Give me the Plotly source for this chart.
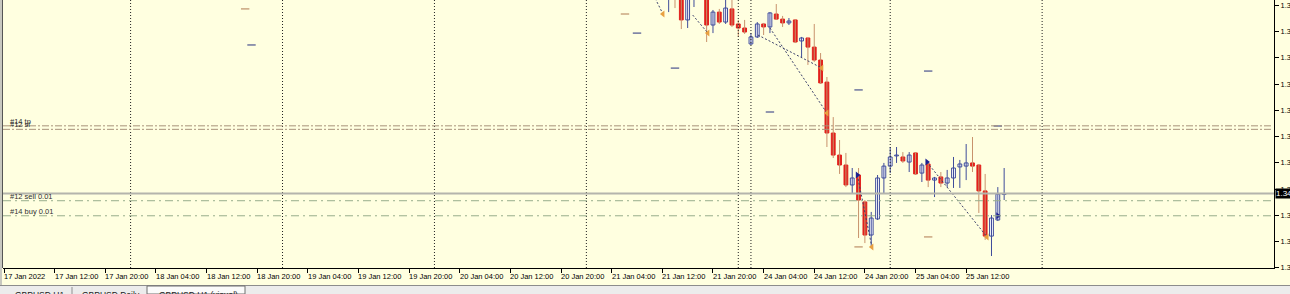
import plotly.graph_objects as go

# ---------------- data ----------------
# x axis = H1 bar index (weekend skipped); index 0 = 17 Jan 2022 04:00
tick_index = [0, 8, 16, 24, 32, 40, 48, 56, 64, 72, 80, 88, 96, 104, 112, 120, 128, 136, 144, 152]
tick_labels = ["17 Jan 2022", "17 Jan 12:00", "17 Jan 20:00", "18 Jan 04:00", "18 Jan 12:00",
               "18 Jan 20:00", "19 Jan 04:00", "19 Jan 12:00", "19 Jan 20:00", "20 Jan 04:00",
               "20 Jan 12:00", "20 Jan 20:00", "21 Jan 04:00", "21 Jan 12:00", "21 Jan 20:00",
               "24 Jan 04:00", "24 Jan 12:00", "24 Jan 20:00", "25 Jan 04:00", "25 Jan 12:00"]
separator_index = [20, 44, 68, 92, 116, 118, 140, 164]

price_tick_values = [1.34150, 1.34300, 1.34450, 1.34600, 1.34750, 1.34900,
                     1.35050, 1.35200, 1.35350, 1.35500, 1.35650]
price_tick_labels = ["1.34150", "1.34300", "1.34450", "1.34600", "1.34750", "1.34900",
                     "1.35050", "1.35200", "1.35350", "1.35500", "1.35650"]

candle_index = list(range(105, 159))
open_ = [1.35697, 1.35749, 1.35709, 1.35566, 1.35691, 1.35726, 1.35697, 1.35537, 1.35611, 1.35554,
         1.35629, 1.35543, 1.35520, 1.35429, 1.35469, 1.35543, 1.35526, 1.35600, 1.35571, 1.35549,
         1.35566, 1.35446, 1.35463, 1.35411, 1.35337, 1.35211, 1.34920, 1.34794, 1.34737, 1.34623,
         1.34680, 1.34526, 1.34337, 1.34429, 1.34663, 1.34731, 1.34789, 1.34783, 1.34754, 1.34806,
         1.34691, 1.34743, 1.34651, 1.34669, 1.34634, 1.34663, 1.34726, 1.34731, 1.34749, 1.34737,
         1.34589, 1.34331, 1.34423, 1.34569]
high = [1.35766, 1.35766, 1.35726, 1.35726, 1.35749, 1.35766, 1.35714, 1.35623, 1.35629, 1.35686,
        1.35686, 1.35566, 1.35566, 1.35491, 1.35554, 1.35549, 1.35611, 1.35657, 1.35589, 1.35577,
        1.35571, 1.35469, 1.35463, 1.35543, 1.35377, 1.35240, 1.35011, 1.34880, 1.34806, 1.34720,
        1.34720, 1.34537, 1.34469, 1.34680, 1.34749, 1.34840, 1.34840, 1.34811, 1.34811, 1.34811,
        1.34749, 1.34749, 1.34669, 1.34697, 1.34709, 1.34783, 1.34766, 1.34857, 1.34897, 1.34743,
        1.34686, 1.34451, 1.34611, 1.34720]
low = [1.35611, 1.35634, 1.35514, 1.35520, 1.35640, 1.35691, 1.35440, 1.35491, 1.35543, 1.35543,
       1.35526, 1.35469, 1.35486, 1.35423, 1.35463, 1.35480, 1.35491, 1.35566, 1.35526, 1.35537,
       1.35434, 1.35354, 1.35309, 1.35326, 1.35200, 1.34840, 1.34777, 1.34686, 1.34611, 1.34577,
       1.34320, 1.34291, 1.34269, 1.34423, 1.34577, 1.34691, 1.34749, 1.34749, 1.34697, 1.34680,
       1.34640, 1.34611, 1.34554, 1.34611, 1.34611, 1.34606, 1.34606, 1.34651, 1.34697, 1.34463,
       1.34309, 1.34217, 1.34417, 1.34537]
close = [1.35737, 1.35697, 1.35566, 1.35703, 1.35726, 1.35697, 1.35537, 1.35611, 1.35554, 1.35634,
         1.35537, 1.35520, 1.35497, 1.35469, 1.35543, 1.35526, 1.35606, 1.35571, 1.35549, 1.35560,
         1.35440, 1.35463, 1.35411, 1.35337, 1.35206, 1.34920, 1.34794, 1.34737, 1.34623, 1.34663,
         1.34537, 1.34337, 1.34434, 1.34663, 1.34731, 1.34783, 1.34794, 1.34760, 1.34794, 1.34686,
         1.34737, 1.34651, 1.34663, 1.34634, 1.34663, 1.34720, 1.34743, 1.34749, 1.34731, 1.34589,
         1.34331, 1.34434, 1.34571, 1.34574]

# order levels (horizontal lines) shown on the chart
level_names = ["#14 tp", "#12 sl", "#12 sell 0.01", "#14 buy 0.01"]
level_prices = [1.34961, 1.34941, 1.34533, 1.34447]
level_kinds = ["stop", "stop", "order", "order"]

# history trades: open bar/price -> close bar/price
trade_open_index = [102.6, 108.8, 119.1, 121.0, 134.8, 145.8]
trade_open_price = [1.35709, 1.35594, 1.35480, 1.35520, 1.34680, 1.34754]
trade_close_index = [104.1, 111.2, 129.2, 130.0, 137.1, 155.3]
trade_close_price = [1.35600, 1.35491, 1.35291, 1.35034, 1.34269, 1.34326]
open_arrow_index = [134.8, 145.8, 157.0]
open_arrow_price = [1.34680, 1.34754, 1.34447]

# short sl/tp marks of closed trades
mark_index = [38.1, 98.1, 146.0, 135.0, 39.1, 100.0, 106.0, 121.0, 135.0, 146.0, 157.0]
mark_price = [1.35629, 1.35600, 1.34326, 1.34269, 1.35423, 1.35491, 1.35291, 1.35040,
              1.35166, 1.35274, 1.34960]
mark_kind = ["tp", "tp", "tp", "tp", "sl", "sl", "sl", "sl", "sl", "sl", "sl"]

tab_labels = ["GBPUSD,H1", "GBPUSD,Daily", "GBPUSD,H1 (visual)"]

# ---------------- style ----------------
BG = "#FFFFE0"
FONT = "Liberation Sans"
BULL_LINE = "#3f4c9a"
BEAR_LINE = "#c8926c"
BEAR_FILL = "#e2201c"
BULL_FILL = "#ffffff"
X_RANGE = [-0.158, 200.63]
Y_RANGE = [1.341486, 1.35680]
W, H = 1290, 294
ML, MR, MT, MB = 3, 16, 0, 26
PW, PH = W - ML - MR, H - MT - MB


def pxx(p):
    return (p - ML) / PW


def pxy(p):
    return (PH - p) / PH


fig = go.Figure()

# wicks
for bull in (True, False):
    xs, ys = [], []
    for i, o, h, l, c in zip(candle_index, open_, high, low, close):
        if (c >= o) == bull:
            xs += [i, i, None]
            ys += [l, h, None]
    fig.add_trace(go.Scatter(x=xs, y=ys, mode="lines", hoverinfo="skip",
                             line=dict(color=BULL_LINE if bull else BEAR_LINE, width=1)))

# bodies
for bull in (True, False):
    bx, bb, bh = [], [], []
    for i, o, c in zip(candle_index, open_, close):
        if (c >= o) == bull:
            bx.append(i)
            bb.append(min(o, c))
            bh.append(abs(c - o))
    fig.add_trace(go.Bar(x=bx, y=bh, base=bb, width=0.6,
                         marker=dict(color=BULL_FILL if bull else BEAR_FILL,
                                     line=dict(color=BULL_LINE if bull else BEAR_FILL, width=1))))

# trade lines
for oi, op, ci, cp in zip(trade_open_index, trade_open_price, trade_close_index, trade_close_price):
    fig.add_trace(go.Scatter(x=[oi, ci], y=[op, cp], mode="lines", hoverinfo="skip",
                             line=dict(color="#3a3f6a", width=1, dash="2px,2px")))
fig.add_trace(go.Scatter(x=trade_close_index, y=trade_close_price, mode="markers",
                         marker=dict(symbol="triangle-left", size=6, color="#e8a040")))
fig.add_trace(go.Scatter(x=open_arrow_index, y=open_arrow_price, mode="markers",
                         marker=dict(symbol="triangle-right", size=6, color="#1c2090")))

# sl / tp marks
for kind, col in (("tp", "#b07a50"), ("sl", "#26307e")):
    mx = [x for x, k in zip(mark_index, mark_kind) if k == kind]
    my = [y for y, k in zip(mark_price, mark_kind) if k == kind]
    fig.add_trace(go.Scatter(x=mx, y=my, mode="markers",
                             marker=dict(symbol="line-ew", size=6, line=dict(color=col, width=1))))

shapes = []
# day separators
for s in separator_index:
    shapes.append(dict(type="line", xref="x", yref="paper", x0=s, x1=s, y0=0, y1=1,
                       line=dict(color="#202020", width=1, dash="1px,2px")))
# order levels
for p, kind in zip(level_prices, level_kinds):
    if kind == "stop":
        ln = dict(color="#a8927a", width=1, dash="7px,2px,2px,2px")
    else:
        ln = dict(color="#98ad8c", width=1, dash="8px,4px,2px,4px")
    shapes.append(dict(type="line", xref="paper", yref="y", x0=0, x1=0.998, y0=p, y1=p, line=ln))
# bid line
shapes.append(dict(type="line", xref="paper", yref="y", x0=0, x1=1, y0=close[-1], y1=close[-1],
                   line=dict(color="#b4b4ac", width=2)))
# left frame
shapes.append(dict(type="rect", xref="paper", yref="paper", x0=pxx(0), x1=pxx(2), y0=pxy(H), y1=1,
                   fillcolor="#c8c8c0", line=dict(width=0)))
shapes.append(dict(type="line", xref="paper", yref="paper", x0=pxx(2.5), x1=pxx(2.5), y0=0, y1=1,
                   line=dict(color="#555555", width=1)))
# tab bar
shapes.append(dict(type="rect", xref="paper", yref="paper", x0=pxx(0), x1=pxx(W), y0=pxy(H),
                   y1=pxy(285.5), fillcolor="#ececec", line=dict(width=0)))
shapes.append(dict(type="line", xref="paper", yref="paper", x0=pxx(0), x1=pxx(W), y0=pxy(285.5),
                   y1=pxy(285.5), line=dict(color="#8c8c8c", width=1)))
shapes.append(dict(type="rect", xref="paper", yref="paper", x0=pxx(147), x1=pxx(245), y0=pxy(H),
                   y1=pxy(286), fillcolor="#fbfbfb", line=dict(color="#707070", width=1)))
shapes.append(dict(type="line", xref="paper", yref="paper", x0=pxx(72), x1=pxx(72), y0=pxy(H),
                   y1=pxy(287), line=dict(color="#909090", width=1)))

annotations = []
for ti, tl in zip(tick_index, tick_labels):
    annotations.append(dict(x=ti, y=0, xref="x", yref="paper", text=tl, showarrow=False,
                            xanchor="left", yanchor="top", xshift=-2, yshift=-2,
                            font=dict(family=FONT, size=7.5, color="#000000")))
for name, p in zip(level_names, level_prices):
    annotations.append(dict(x=pxx(8), y=p, xref="paper", yref="y", text=name, showarrow=False,
                            xanchor="left", yanchor="bottom", yshift=-2,
                            font=dict(family=FONT, size=7.5, color="#303030")))
annotations.append(dict(x=1, y=close[-1], xref="paper", yref="y", text="%.5f" % close[-1],
                        showarrow=False, xanchor="left", yanchor="middle", xshift=1,
                        bgcolor="#000000", borderpad=0,
                        font=dict(family=FONT, size=8, color="#ffffff")))
for tx, tl in zip([13, 80, 157], tab_labels):
    annotations.append(dict(x=pxx(tx), y=pxy(295), xref="paper", yref="paper", text=tl,
                            showarrow=False, xanchor="left", yanchor="middle",
                            font=dict(family=FONT, size=8.5, color="#202020")))

fig.update_layout(
    width=W, height=H, margin=dict(l=ML, r=MR, t=MT, b=MB, autoexpand=False),
    paper_bgcolor=BG, plot_bgcolor=BG, showlegend=False, barmode="overlay",
    shapes=shapes, annotations=annotations,
    xaxis=dict(range=X_RANGE, showgrid=False, zeroline=False, showline=True, linecolor="#000000",
               linewidth=1, ticks="outside", ticklen=4, tickcolor="#000000", automargin=False,
               tickvals=tick_index, showticklabels=False),
    yaxis=dict(range=Y_RANGE, side="right", showgrid=False, zeroline=False, showline=True,
               linecolor="#000000", linewidth=1, ticks="outside", ticklen=4, tickcolor="#000000",
               automargin=False, tickvals=price_tick_values, ticktext=price_tick_labels,
               tickfont=dict(family=FONT, size=7.5, color="#000000")),
)

fig.write_html("out.html")
